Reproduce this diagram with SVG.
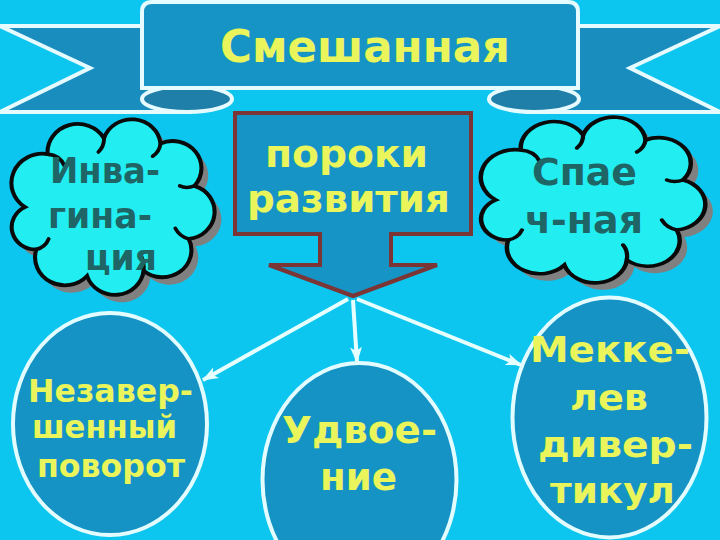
<svg xmlns="http://www.w3.org/2000/svg" xmlns:xlink="http://www.w3.org/1999/xlink" width="720" height="540" viewBox="0 0 720 540">
<style>
.bg{fill:#0cc6ef}
.rib{stroke:#e6fbff;stroke-width:4;stroke-linejoin:miter}
.txt{font-family:"DejaVu Sans","Liberation Sans",sans-serif;font-weight:bold}
.yel{fill:#e9f55b}
.dark{fill:#1f6565}
.cloud{fill:#22eef2;stroke:#0a0a0a;stroke-width:3.6}
.shadow{fill:#808080}
.hook{fill:none;stroke:#0a0a0a;stroke-width:3.4;stroke-linecap:round}
.ell{fill:#1493c4;stroke:#e2fcff;stroke-width:4}
.con{stroke:#e6ffff;stroke-width:4;fill:none}
</style>
<defs>
<path id="cloudShape" d="M25,95 A27.6,27.6 0 0 1 45,45 A26.8,26.8 0 0 1 95,30 A25.7,25.7 0 0 1 145,35 A25.6,25.6 0 0 1 175,75 A25.7,25.7 0 0 1 170,125 A25.6,25.6 0 0 1 130,155 A25.7,25.7 0 0 1 80,160 A26.4,26.4 0 0 1 35,135 A21.1,21.1 0 0 1 25,95 Z"/>
<g id="hooks">
<path class="hook" d="M45,45 q11,1 15,11"/>
<path class="hook" d="M95,30 q0,8 -5,13"/>
<path class="hook" d="M145,35 q-1,8 -7,12"/>
<path class="hook" d="M175,75 q-7,3 -13,0"/>
<path class="hook" d="M170,125 q-8,-2 -12,-10"/>
<path class="hook" d="M130,155 q1,-9 -3,-15"/>
<path class="hook" d="M35,135 q8,-2 11,-10"/>
</g>
<marker id="ah" viewBox="0 0 16 12" refX="15" refY="6" markerWidth="16" markerHeight="12" markerUnits="userSpaceOnUse" orient="auto">
<path d="M0,0 L16,6 L0,12 L4,6 Z" fill="#e6ffff"/>
</marker>
</defs>
<rect class="bg" x="0" y="0" width="720" height="540"/>

<g id="banner">
<path class="rib" fill="#1a8dbf" d="M0,26 L190,26 L190,112 L0,112 L90,68 Z"/>
<path class="rib" fill="#1a8dbf" d="M720,26 L530,26 L530,112 L720,112 L630,68 Z"/>
<ellipse class="rib" fill="#207fa9" cx="187" cy="99" rx="45" ry="13"/>
<ellipse class="rib" fill="#207fa9" cx="534" cy="99" rx="45" ry="13"/>
<path class="rib" fill="#1594c5" d="M142,88 L142,12 Q142,2 152,2 L568,2 Q578,2 578,12 L578,88 Z"/>
<text class="txt yel" x="220" y="62" font-size="45" textLength="290" lengthAdjust="spacingAndGlyphs">Смешанная</text>
</g>

<g id="cloud-left">
<g transform="translate(-3.3,106.4) scale(1.13,1.06)">
<use xlink:href="#cloudShape" class="shadow" transform="translate(6,7)"/>
<use xlink:href="#cloudShape" class="cloud"/>
<use xlink:href="#hooks"/>
</g>
<text class="txt dark" font-size="35" x="50" y="183" textLength="110" lengthAdjust="spacingAndGlyphs">Инва-</text>
<text class="txt dark" font-size="35" x="48" y="228" textLength="104" lengthAdjust="spacingAndGlyphs">гина-</text>
<text class="txt dark" font-size="35" x="85" y="270" textLength="72" lengthAdjust="spacingAndGlyphs">ция</text>
</g>

<g id="cloud-right">
<g transform="translate(464.5,105) scale(1.249,1.0)">
<use xlink:href="#cloudShape" class="shadow" transform="translate(6,7)"/>
<use xlink:href="#cloudShape" class="cloud"/>
<use xlink:href="#hooks"/>
</g>
<text class="txt dark" font-size="37" x="532" y="185" textLength="105" lengthAdjust="spacingAndGlyphs">Спае</text>
<text class="txt dark" font-size="37" x="525" y="233" textLength="118" lengthAdjust="spacingAndGlyphs">ч-ная</text>
</g>

<g id="box">
<path fill="#1594c5" stroke="#7b3535" stroke-width="4" stroke-linejoin="miter" d="M235,113 L471,113 L471,234 L391,234 L391,265 L437,265 L353,296 L269,265 L320,265 L320,234 L235,234 Z"/>
<text class="txt yel" font-size="38" x="265" y="167" textLength="163" lengthAdjust="spacingAndGlyphs">пороки</text>
<text class="txt yel" font-size="38" x="247" y="212" textLength="203" lengthAdjust="spacingAndGlyphs">развития</text>
</g>

<g id="connectors">
<line class="con" x1="348" y1="299" x2="203" y2="380" marker-end="url(#ah)"/>
<line class="con" x1="353" y1="300" x2="357" y2="362" marker-end="url(#ah)"/>
<line class="con" x1="357" y1="299" x2="521" y2="365" marker-end="url(#ah)"/>
</g>

<g id="node-left">
<ellipse class="ell" cx="110" cy="424" rx="97" ry="111"/>
<text class="txt yel" font-size="32" x="28" y="402" textLength="165" lengthAdjust="spacingAndGlyphs">Незавер-</text>
<text class="txt yel" font-size="32" x="32" y="438" textLength="145" lengthAdjust="spacingAndGlyphs">шенный</text>
<text class="txt yel" font-size="32" x="37" y="477" textLength="148" lengthAdjust="spacingAndGlyphs">поворот</text>
</g>

<g id="node-middle">
<ellipse class="ell" cx="359.5" cy="480" rx="97" ry="117"/>
<text class="txt yel" font-size="38" x="282" y="443" textLength="155" lengthAdjust="spacingAndGlyphs">Удвое-</text>
<text class="txt yel" font-size="38" x="320" y="490" textLength="77" lengthAdjust="spacingAndGlyphs">ние</text>
</g>

<g id="node-right">
<ellipse class="ell" cx="609.5" cy="417.5" rx="97" ry="120"/>
<text class="txt yel" font-size="36" x="530" y="362" textLength="160" lengthAdjust="spacingAndGlyphs">Мекке-</text>
<text class="txt yel" font-size="36" x="570" y="410" textLength="78" lengthAdjust="spacingAndGlyphs">лев</text>
<text class="txt yel" font-size="36" x="538" y="457" textLength="155" lengthAdjust="spacingAndGlyphs">дивер-</text>
<text class="txt yel" font-size="36" x="550" y="503" textLength="125" lengthAdjust="spacingAndGlyphs">тикул</text>
</g>
</svg>
